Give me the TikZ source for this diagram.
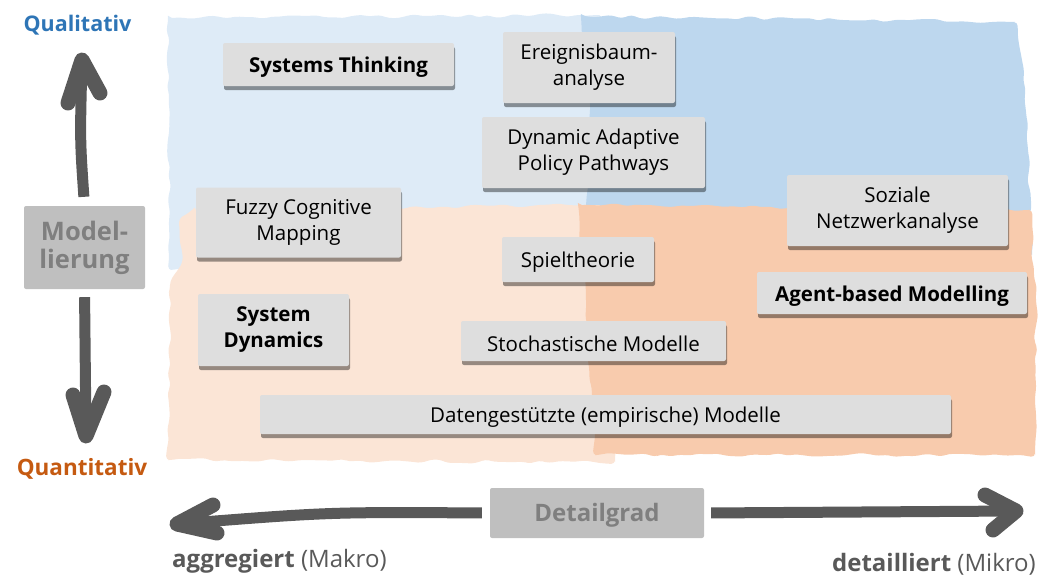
\documentclass[tikz,border=0pt]{standalone}
\usepackage{fontspec}
\setmainfont{Open Sans}
\usetikzlibrary{shadows,decorations.pathmorphing,calc}
\definecolor{paleblue}{HTML}{DEEBF7}
\definecolor{midblue}{HTML}{BDD7EE}
\definecolor{paleorange}{HTML}{FBE5D6}
\definecolor{midorange}{HTML}{F8CBAD}
\definecolor{cardgray}{HTML}{DEDEDE}
\definecolor{axisgray}{HTML}{595959}
\definecolor{taggray}{HTML}{BFBFBF}
\definecolor{tagtext}{HTML}{7F7F7F}
\definecolor{qualblue}{HTML}{2E75B6}
\definecolor{quantorange}{HTML}{C55A11}
\tikzset{
  blob/.style={fill=#1, decorate,
    decoration={random steps, segment length=9pt, amplitude=2pt}, rounded corners=4pt},
  % an invisible strut on the first line centres the letters optically
  lift/.style={execute at begin node={\rule{0pt}{#1}}},
  card/.style={fill=cardgray, rounded corners=2pt, align=center, inner sep=0pt,
    font=\fontsize{20.5}{26}\selectfont, lift=21.5pt,
    drop shadow={shadow xshift=1pt, shadow yshift=-4pt, opacity=0.4, fill=black}},
  cardbold/.style={card, font=\fontsize{20.5}{26}\selectfont\bfseries},
  tag/.style={fill=taggray, text=tagtext, align=center, inner sep=0pt, rounded corners=2pt},
  pole/.style={font=\bfseries},
  shaft/.style={draw=axisgray, line width=11pt},
  barb/.style={draw=axisgray, line width=15pt, line cap=round, line join=round},
}
\begin{document}
\begin{tikzpicture}[x=1pt,y=-1pt]
\useasboundingbox (0,0) rectangle (1038,576);
\pgfmathsetseed{7}

% background fields: qualitative (blue) above, quantitative (orange) below
\fill[blob=paleblue] (168,18) -- (600,15) -- (600,240) -- (170,270) -- cycle;
\fill[blob=midblue] (581,16) -- (1015,22) -- (1022,60) -- (1028,150) -- (1032,255) -- (585,250) -- (590,110) -- cycle;
\fill[blob=paleorange] (192,210) -- (600,205) -- (615,462) -- (168,460) -- (170,285) -- (181,265) -- (179,222) -- cycle;
\fill[blob=midorange] (578,205) -- (1030,210) -- (1036,300) -- (1035,455) -- (595,455) -- (586,300) -- cycle;

% method cards
\node[cardbold, minimum width=231pt, minimum height=43pt] (st) at (338.5,64.5) {Systems Thinking};
\node[card, minimum width=172pt, minimum height=71pt] (eba) at (589,67.5) {Ereignisbaum-\\analyse};
\node[card, minimum width=223pt, minimum height=71pt] (dapp) at (593.5,152.5) {Dynamic Adaptive\\Policy Pathways};
\node[card, minimum width=205pt, minimum height=70pt] (fcm) at (298.5,222.5) {Fuzzy Cognitive\\Mapping};
\node[card, minimum width=221pt, minimum height=71pt] (sna) at (897.5,210.5) {Soziale\\Netzwerkanalyse};
\node[card, minimum width=152pt, minimum height=45pt] (spiel) at (578,259.5) {Spieltheorie};
\node[cardbold, minimum width=270pt, minimum height=42pt] (abm) at (892,293) {Agent-based Modelling};
\node[cardbold, minimum width=151pt, minimum height=72pt] (sd) at (273.5,330) {System\\Dynamics};
\node[card, minimum width=265pt, minimum height=40pt] (stoch) at (593.5,341) {Stochastische Modelle};
\node[card, minimum width=691pt, minimum height=39pt] (daten) at (605.5,414.5) {Datengestützte (empirische) Modelle};

% vertical axis: qualitative to quantitative
\node[pole, text=qualblue, font=\fontsize{21.5}{24}\selectfont\bfseries] (qual) at (77.5,25) {Qualitativ};
\node[pole, text=quantorange, font=\fontsize{22.5}{24}\selectfont\bfseries] (quant) at (82,469) {Quantitativ};
\node[tag, minimum width=121pt, minimum height=83pt, lift=40pt,
  font=\fontsize{25.5}{28}\selectfont\bfseries] (model) at (84.5,247.5) {Model-\\lierung};
\coordinate (upTip) at (82,60);
\coordinate (downTip) at (86,436);
\draw[shaft, shorten <=9pt, shorten >=8pt] (model.north) .. controls (80,140) .. (upTip);
\draw[barb] ($(upTip)+(-14,43)$) -- (upTip) -- ($(upTip)+(18,33)$);
\draw[shaft, shorten <=8pt, shorten >=10pt] (model.south) -- (downTip);
\draw[barb] ($(downTip)+(-13,-41)$) -- (downTip) -- ($(downTip)+(18,-44)$);

% horizontal axis: aggregated to detailed
\node[tag, minimum width=214pt, minimum height=50pt, lift=23pt,
  font=\fontsize{24}{28}\selectfont\bfseries] (detail) at (597,513) {Detailgrad};
\coordinate (leftTip) at (177,524);
\coordinate (rightTip) at (1016,511);
\draw[shaft, shorten <=8pt, shorten >=10pt] (detail.west) .. controls (330,512) .. (leftTip);
\draw[barb] ($(leftTip)+(36,-19)$) -- (leftTip) -- ($(leftTip)+(40,9)$);
\draw[shaft, shorten <=7pt, shorten >=10pt] (detail.east) -- (rightTip);
\draw[barb] ($(rightTip)+(-31,-16)$) -- (rightTip) -- ($(rightTip)+(-23,19)$);

\node[anchor=base west, inner sep=0pt, text=axisgray, font=\fontsize{24}{28}\selectfont] (agg) at (172,567) {\textbf{aggregiert} (Makro)};
\node[anchor=base east, inner sep=0pt, text=axisgray, font=\fontsize{24}{28}\selectfont] (det) at (1036,571) {\textbf{detailliert} (Mikro)};
\end{tikzpicture}
\end{document}
